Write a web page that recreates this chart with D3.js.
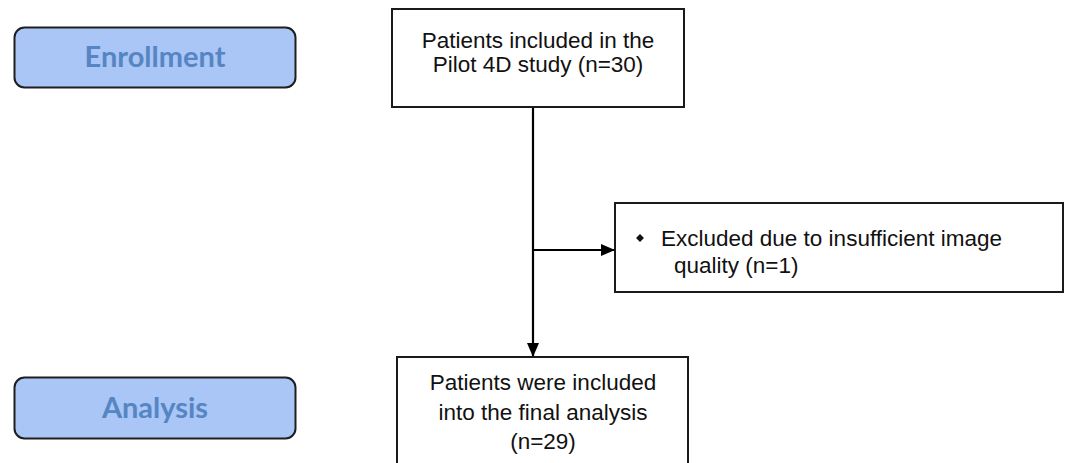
<!DOCTYPE html>
<html>
<head>
<meta charset="utf-8">
<script src="https://cdn.jsdelivr.net/npm/d3@7"></script>
<style>
  html, body { margin: 0; padding: 0; background: #ffffff; }
  svg { display: block; }
</style>
</head>
<body>
<svg id="chart" width="1067" height="463"></svg>
<script>
// ---- data ----
const phases = ["Enrollment", "Analysis"];
const stageCounts = [30, 1, 29]; // included, excluded, analysed
const topLines = ["Patients included in the", `Pilot 4D study (n=${stageCounts[0]})`];
const excludedLines = ["Excluded due to insufficient image", `quality (n=${stageCounts[1]})`];
const bottomLines = ["Patients were included", "into the final analysis", `(n=${stageCounts[2]})`];

// ---- layout ----
const svg = d3.select("#chart");
const font = "'Liberation Sans', Arial, Helvetica, sans-serif";

const defs = svg.append("defs");
defs.append("marker")
  .attr("id", "arrow")
  .attr("viewBox", "0 0 14 12")
  .attr("refX", 14).attr("refY", 6)
  .attr("markerWidth", 14).attr("markerHeight", 12)
  .attr("markerUnits", "userSpaceOnUse")
  .attr("orient", "auto")
  .append("path").attr("d", "M0,0 L14,6 L0,12 Z").attr("fill", "#000");

// phase boxes
const phaseY = d3.scaleOrdinal().domain(phases).range([27, 377]);
const phaseH = d3.scaleOrdinal().domain(phases).range([60, 61]);
const pg = svg.selectAll("g.phase").data(phases).join("g").attr("class", "phase");
pg.append("rect")
  .attr("x", 14.5).attr("y", d => phaseY(d) + 0.5)
  .attr("width", 281).attr("height", d => phaseH(d))
  .attr("rx", 10).attr("ry", 10)
  .attr("fill", "#a9c6f7").attr("stroke", "#1e1e1e").attr("stroke-width", 2);
pg.append("text")
  .attr("x", 155).attr("y", d => phaseY(d) + phaseH(d) / 2 + 10)
  .attr("text-anchor", "middle")
  .attr("font-family", "Lato, 'Open Sans', sans-serif")
  .attr("font-weight", "bold").attr("font-size", 29)
  .attr("fill", "#5585c2")
  .text(d => d);

// generic box
function box(x, y, w, h) {
  svg.append("rect").attr("x", x).attr("y", y).attr("width", w).attr("height", h)
    .attr("fill", "#fff").attr("stroke", "#1a1a1a").attr("stroke-width", 2);
}
function lines(arr, x, y0, dy, anchor) {
  const t = svg.append("text").attr("font-family", font).attr("font-size", 22.5)
    .attr("fill", "#111").attr("text-anchor", anchor);
  arr.forEach((s, i) => {
    t.append("tspan").attr("x", Array.isArray(x) ? x[i] : x).attr("y", y0 + i * dy).text(s);
  });
}

// connectors
const lineX = 533;
svg.append("line").attr("x1", lineX).attr("y1", 107).attr("x2", lineX).attr("y2", 357)
  .attr("stroke", "#000").attr("stroke-width", 2.2).attr("marker-end", "url(#arrow)");
svg.append("line").attr("x1", lineX).attr("y1", 250).attr("x2", 615).attr("y2", 250)
  .attr("stroke", "#000").attr("stroke-width", 2.2).attr("marker-end", "url(#arrow)");

// top box
box(392, 9, 292, 98);
lines(topLines, 538, 48, 23.5, "middle");

// excluded box
box(615, 203, 448, 89);
svg.append("path")
  .attr("d", d3.symbol().type(d3.symbolDiamond2).size(40)())
  .attr("transform", "translate(640,238)").attr("fill", "#111");
lines(excludedLines, [661, 674], 246, 26.5, "start");

// bottom box
box(397, 357, 291, 120);
lines(bottomLines, 543, 390, 29.5, "middle");
</script>
</body>
</html>
